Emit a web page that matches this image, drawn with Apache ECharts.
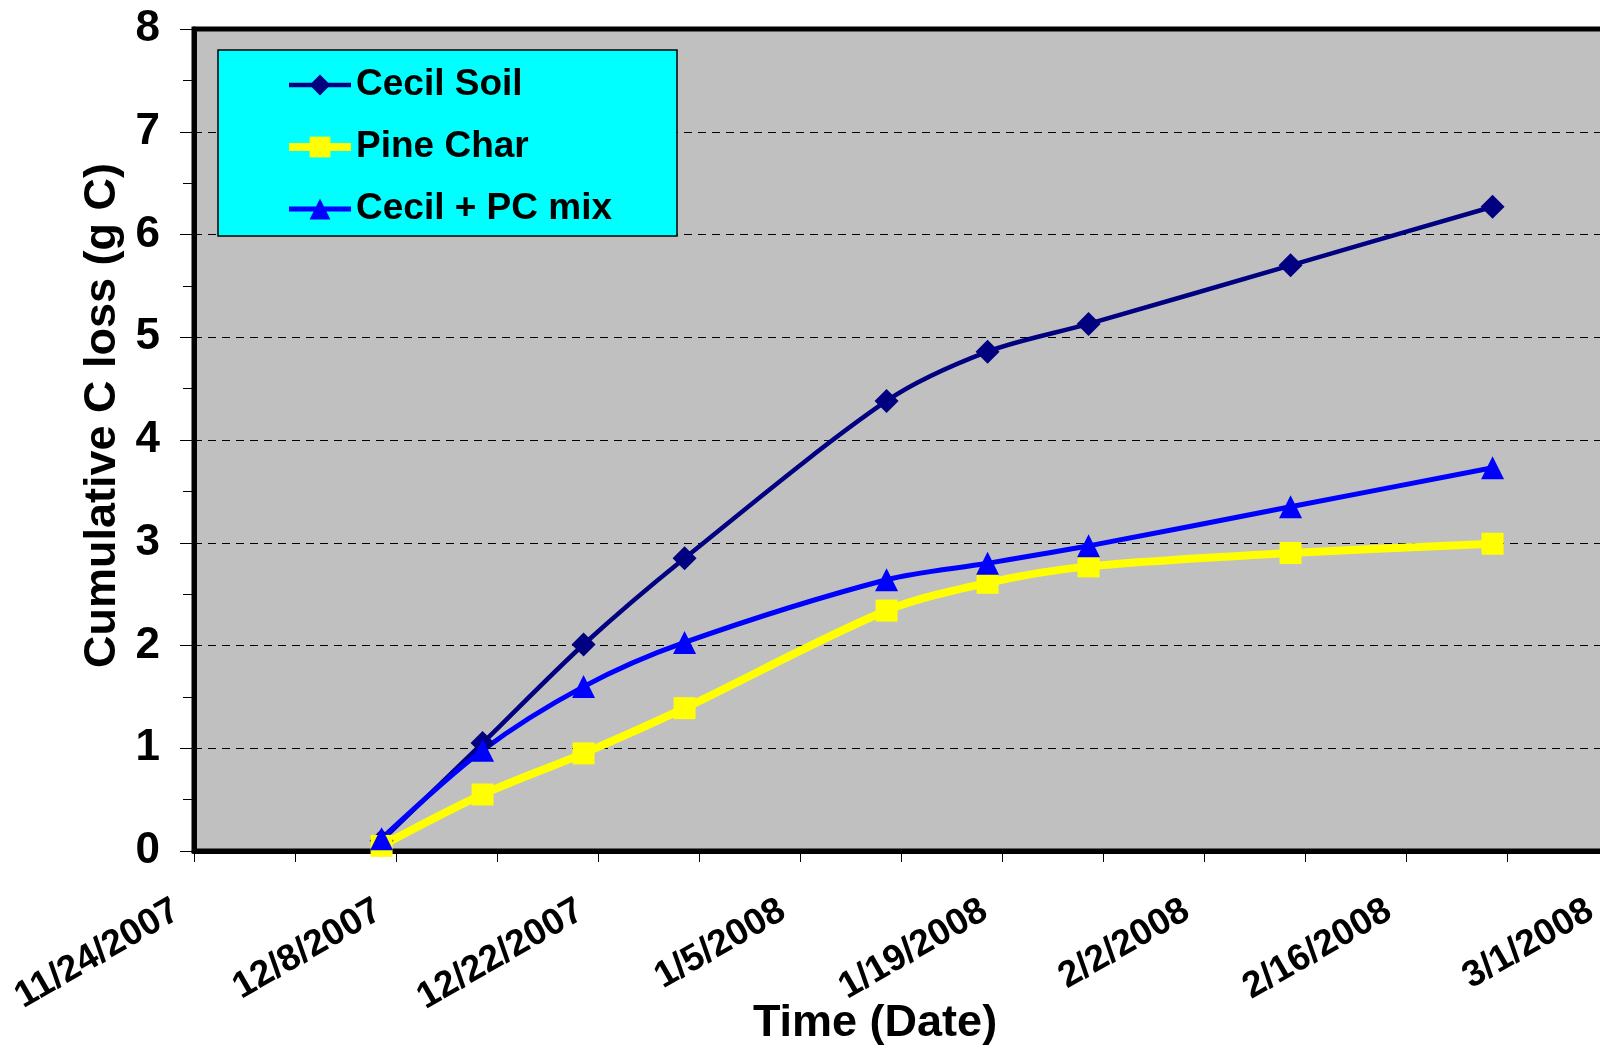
<!DOCTYPE html>
<html>
<head>
<meta charset="utf-8">
<script src="https://cdn.jsdelivr.net/npm/echarts@6/dist/echarts.min.js"></script>
<style>
  html, body { margin: 0; padding: 0; background: #fff; overflow: hidden; }
  #chart { width: 1620px; height: 1046px; }
</style>
</head>
<body>
<div id="chart"></div>
<script>
// Sampling dates (M/D/YYYY) and cumulative carbon loss, g C
const sampleDates = ['12/7/2007', '12/14/2007', '12/21/2007', '12/28/2007', '1/11/2008', '1/18/2008', '1/25/2008', '2/8/2008', '2/22/2008'];
const cecilSoil  = [0.10, 1.05, 2.01, 2.85, 4.38, 4.86, 5.13, 5.70, 6.27];
const pineChar   = [0.05, 0.55, 0.95, 1.39, 2.34, 2.61, 2.77, 2.90, 2.99];
const cecilPcMix = [0.12, 0.98, 1.60, 2.03, 2.64, 2.80, 2.97, 3.35, 3.73];

// Date axis labels, one every two weeks starting at the axis origin
const xTickLabels = ['11/24/2007', '12/8/2007', '12/22/2007', '1/5/2008', '1/19/2008', '2/2/2008', '2/16/2008', '3/1/2008'];
const yTickLabels = ['0', '1', '2', '3', '4', '5', '6', '7', '8'];

const DAY = 86400000;
function parseMDY(s) {
  const [m, d, y] = s.split('/').map(Number);
  return Date.UTC(y, m - 1, d);
}
const origin = parseMDY(xTickLabels[0]);
const dayOffset = s => Math.round((parseMDY(s) - origin) / DAY);
const pairs = vals => sampleDates.map((d, i) => [dayOffset(d), vals[i]]);

const FONT = '"Liberation Sans", Arial, Helvetica, sans-serif';

const styles = {
  'Cecil Soil':     { color: '#000080', width: 4.5, symbol: 'diamond',  size: 24 },
  'Pine Char':      { color: '#FFFF00', width: 8,   symbol: 'rect',     size: 22 },
  'Cecil + PC mix': { color: '#0000FF', width: 5,   symbol: 'triangle', size: 23 }
};

const chart = echarts.init(document.getElementById('chart'), null, { renderer: 'canvas' });

function lineSeries(name, vals) {
  const s = styles[name];
  return {
    name, type: 'line', smooth: 0.3,
    data: pairs(vals),
    symbol: s.symbol, symbolSize: s.size,
    lineStyle: { color: s.color, width: s.width },
    itemStyle: { color: s.color }
  };
}

chart.setOption({
  animation: false,
  backgroundColor: '#ffffff',
  grid: {
    left: 194, top: 29, right: 12, bottom: 195,
    outerBoundsMode: 'none',
    containLabel: false,
    show: true,
    backgroundColor: '#C0C0C0',
    borderColor: '#000000',
    borderWidth: 5
  },
  graphic: [{
    type: 'rect',
    z: 3,
    shape: { x: 218, y: 50, width: 459, height: 186 },
    style: { fill: '#00FFFF', stroke: '#000000', lineWidth: 1.5 }
  }],
  legend: {
    z: 4,
    orient: 'vertical',
    left: 285, top: 65,
    itemWidth: 62, itemHeight: 26,
    itemGap: 22,
    padding: 0,
    textStyle: {
      fontFamily: FONT, fontSize: 37, fontWeight: 'bold', color: '#000',
      lineHeight: 40
    },
    data: Object.keys(styles).map(name => ({
      name,
      lineStyle: { color: styles[name].color, width: styles[name].width },
      itemStyle: { color: styles[name].color }
    }))
  },
  xAxis: {
    type: 'value',
    min: 0, max: 98, interval: 7,
    name: 'Time (Date)',
    nameLocation: 'middle',
    nameGap: 150,
    nameMoveOverlap: false,
    nameTextStyle: {
      fontFamily: FONT, fontSize: 45, fontWeight: 'bold', color: '#000',
      padding: [0, 52, 0, 0]
    },
    axisLine: { show: true, onZero: false, lineStyle: { color: '#000', width: 5 } },
    axisTick: { show: true, length: 11, lineStyle: { color: '#000', width: 1 } },
    splitLine: { show: false },
    axisLabel: {
      rotate: 30,
      margin: 47,
      padding: [0, 20, 0, 0],
      fontFamily: FONT, fontSize: 37, fontWeight: 'bold', color: '#000',
      formatter: v => (v % 14 === 0 ? (xTickLabels[v / 14] || '') : '')
    }
  },
  yAxis: {
    type: 'value',
    min: 0, max: 8, interval: 1,
    name: 'Cumulative C loss (g C)',
    nameLocation: 'middle',
    nameGap: 69,
    nameRotate: 90,
    nameMoveOverlap: false,
    nameTextStyle: {
      fontFamily: FONT, fontSize: 45, fontWeight: 'bold', color: '#000',
      padding: [0, 0, 0, 49]
    },
    axisLine: { show: true, lineStyle: { color: '#000', width: 5 } },
    axisTick: { show: true, length: 14, lineStyle: { color: '#000', width: 1 } },
    minorTick: { show: true, splitNumber: 2, length: 11, lineStyle: { color: '#000', width: 1 } },
    splitLine: { show: true, lineStyle: { color: '#000', width: 1, type: [8, 6] } },
    axisLabel: {
      margin: 34,
      fontFamily: FONT, fontSize: 44, fontWeight: 'bold', color: '#000',
      formatter: v => yTickLabels[v]
    }
  },
  series: [
    lineSeries('Cecil Soil', cecilSoil),
    lineSeries('Pine Char', pineChar),
    lineSeries('Cecil + PC mix', cecilPcMix)
  ]
});
</script>
</body>
</html>
